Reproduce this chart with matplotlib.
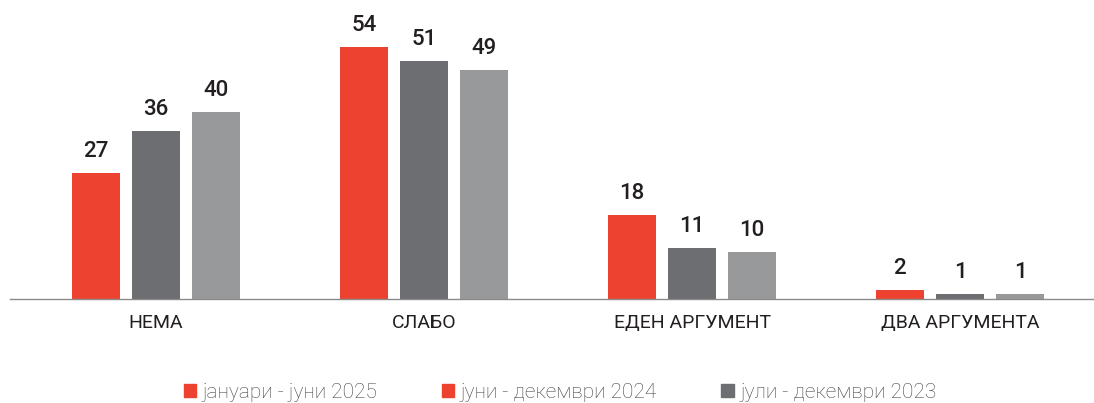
import matplotlib.pyplot as plt
from matplotlib.patches import Patch
import numpy as np

plt.rcParams['font.family'] = ['Roboto', 'DejaVu Sans']

categories = ['НЕМА', 'СЛАБО', 'ЕДЕН АРГУМЕНТ', 'ДВА АРГУМЕНТА']
periods = ['јануари - јуни 2025', 'јуни - декември 2024', 'јули - декември 2023']
values_2025 = [27, 54, 18, 2]
values_2024 = [36, 51, 11, 1]
values_2023 = [40, 49, 10, 1]

bar_colors = ['#EE4230', '#6D6E71', '#98999B']
# the legend of the original shows these swatches
legend_colors = ['#EE4230', '#EE4230', '#6D6E71']


def main():
    fig = plt.figure(figsize=(10.94, 4.03), dpi=100)
    ax = fig.add_axes([10 / 1094, 104 / 403, 1084 / 1094, 299 / 403])

    x = np.arange(len(categories))
    width = 0.179
    step = 0.224
    series = [values_2025, values_2024, values_2023]
    for i, vals in enumerate(series):
        pos = x + (i - 1) * step
        bars = ax.bar(pos, vals, width=width, color=bar_colors[i])
        for b, v in zip(bars, vals):
            ax.annotate(str(v), (b.get_x() + b.get_width() / 2, v),
                        xytext=(0, 8), textcoords='offset points',
                        ha='center', va='bottom', fontsize=16,
                        fontweight='medium', color='#231F20')

    ax.set_xlim(-0.545, 3.5)
    ax.set_ylim(0, 64.07)
    ax.set_xticks(x)
    ax.set_xticklabels(categories, fontsize=14, color='#231F20')
    ax.tick_params(axis='x', length=0, pad=11)
    ax.set_yticks([])
    for side in ['top', 'right', 'left']:
        ax.spines[side].set_visible(False)
    ax.spines['bottom'].set_color('#8A8A8A')
    ax.spines['bottom'].set_linewidth(1)

    handles = [Patch(color=c) for c in legend_colors]
    fig.legend(handles, periods, loc='center', bbox_to_anchor=(560 / 1094, 1 - 392 / 403),
               ncol=3, frameon=False, prop={'size': 15, 'weight': 'light'},
               handlelength=0.6, handleheight=0.6,
               handletextpad=0.3, columnspacing=3.1, labelcolor='#444444')

    fig.savefig('out.png', dpi=100)


if __name__ == "__main__":
    main()
